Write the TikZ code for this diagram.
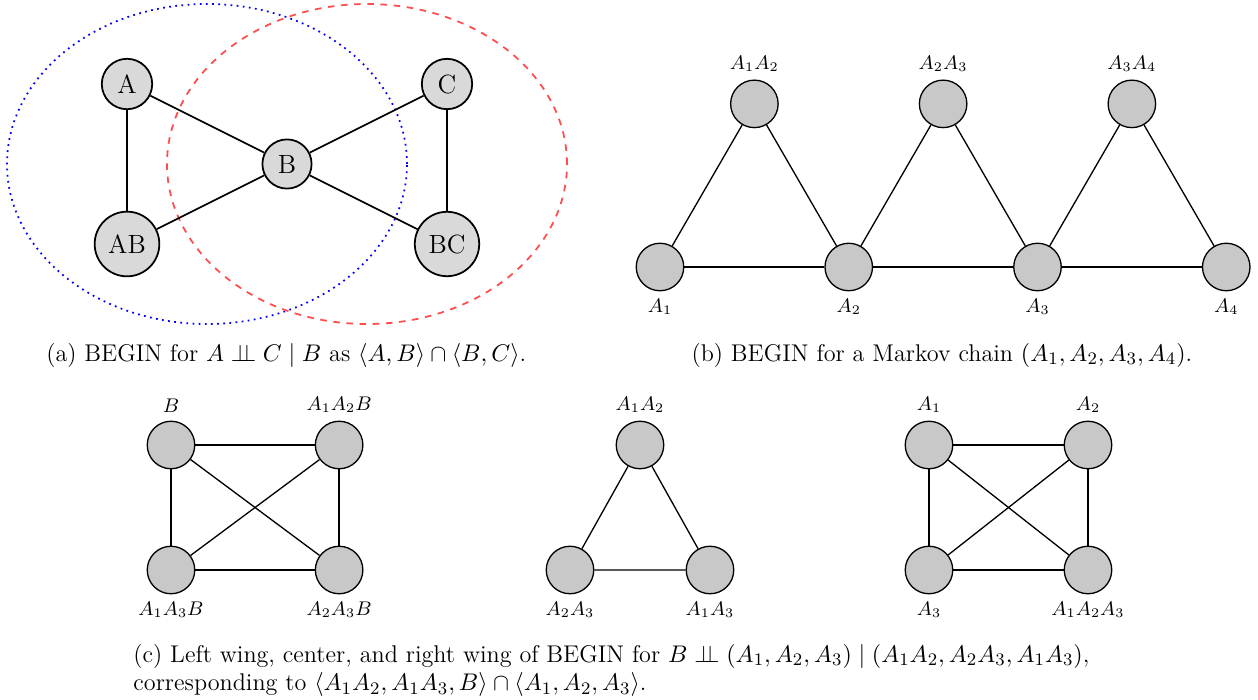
\documentclass[tikz,border=0pt]{standalone}
\usepackage{amsmath,amssymb}
\usetikzlibrary{positioning}
\definecolor{setBlue}  {RGB}{0,   0,   255}
\definecolor{setRed}   {RGB}{255, 77,  77}
\definecolor{varLight} {RGB}{217, 217, 217}
\definecolor{cliqGray} {RGB}{200, 200, 200}
\newcommand{\CondIndep}{\mathrel{\perp\!\!\!\perp}}
\tikzset{
  var/.style   = {circle, draw, thick, fill=varLight, font=\large, inner sep=3.8pt},
  cliq/.style  = {circle, draw, semithick, fill=cliqGray, minimum size=0.76cm, inner sep=0pt},
  lbl/.style   = {font=\small},
  vedge/.style = {thick},
  cedge/.style = {semithick},
  capt/.style  = {font=\fontsize{11}{13}\selectfont, align=left},
}

\begin{document}
\begin{tikzpicture}
\useasboundingbox (0,0) rectangle (20.128,-11.2);

% ---- Panel (a): two overlapping sets ----------------------------------------
\begin{scope}[shift={(4.592,-2.624)}]
  \draw[setBlue, thick, dotted] (-1.28,0) ellipse [x radius=3.2cm, y radius=2.56cm];
  \draw[setRed, thick, dashed]  (1.28,0) ellipse [x radius=3.2cm, y radius=2.56cm];

  \node[var] (B)  at (0,0)          {B};
  \node[var] (A)  at (-2.56,1.28)   {A};
  \node[var] (C)  at (2.56,1.28)    {C};
  \node[var] (AB) at (-2.56,-1.28)  {AB};
  \node[var] (BC) at (2.56,-1.28)   {BC};

  \draw[vedge] (A) -- (AB);
  \draw[vedge] (A) -- (B);
  \draw[vedge] (AB) -- (B);
  \draw[vedge] (C) -- (BC);
  \draw[vedge] (C) -- (B);
  \draw[vedge] (BC) -- (B);
\end{scope}

\node[capt] (capA) at (4.58,-5.68)
  {(a) BEGIN for $A \CondIndep C \mid B$ as $\langle A, B\rangle \cap \langle B, C\rangle$.};

% ---- Panel (b): Markov chain ------------------------------------------------
\begin{scope}[shift={(10.56,-4.272)}]
  \foreach \i/\x in {1/0, 2/3.02, 3/6.04, 4/9.06}
    \node[cliq, label={[lbl]below:$A_\i$}] (a\i) at (\x,0) {};

  \node[cliq, label={[lbl]above:$A_1A_2$}] (a12) at (1.51,2.61) {};
  \node[cliq, label={[lbl]above:$A_2A_3$}] (a23) at (4.53,2.61) {};
  \node[cliq, label={[lbl]above:$A_3A_4$}] (a34) at (7.55,2.61) {};

  \draw[cedge] (a1) -- (a2) -- (a3) -- (a4);
  \draw[cedge] (a1) -- (a12) -- (a2);
  \draw[cedge] (a2) -- (a23) -- (a3);
  \draw[cedge] (a3) -- (a34) -- (a4);
\end{scope}

\node[capt] (capB) at (15.07,-5.68)
  {(b) BEGIN for a Markov chain $(A_1, A_2, A_3, A_4)$.};

% ---- Panel (c), left wing ---------------------------------------------------
\begin{scope}[on grid, node distance=2cm and 2.69cm]
  \node[cliq, label={[lbl]above:$B$}] (lb) at (2.736,-7.12) {};
  \node[cliq, right=of lb, label={[lbl]above:$A_1A_2B$}] (la12b) {};
  \node[cliq, below=of lb, label={[lbl]below:$A_1A_3B$}] (la13b) {};
  \node[cliq, below=of la12b, label={[lbl]below:$A_2A_3B$}] (la23b) {};
\end{scope}
\draw[cedge] (lb) -- (la12b) -- (la23b) -- (la13b) -- (lb);
\draw[cedge] (lb) -- (la23b);
\draw[cedge] (la12b) -- (la13b);

% ---- Panel (c), center ------------------------------------------------------
\node[cliq, label={[lbl]above:$A_1A_2$}] (ca12) at (10.24,-7.12) {};
\node[cliq, label={[lbl]below:$A_2A_3$}] (ca23) at (9.12,-9.12) {};
\node[cliq, label={[lbl]below:$A_1A_3$}] (ca13) at (11.36,-9.12) {};
\draw[cedge] (ca12) -- (ca23) -- (ca13) -- (ca12);

% ---- Panel (c), right wing --------------------------------------------------
\begin{scope}[on grid, node distance=2cm and 2.544cm]
  \node[cliq, label={[lbl]above:$A_1$}] (ra1) at (14.864,-7.12) {};
  \node[cliq, right=of ra1, label={[lbl]above:$A_2$}] (ra2) {};
  \node[cliq, below=of ra1, label={[lbl]below:$A_3$}] (ra3) {};
  \node[cliq, below=of ra2, label={[lbl]below:$A_1A_2A_3$}] (ra123) {};
\end{scope}
\draw[cedge] (ra1) -- (ra2) -- (ra123) -- (ra3) -- (ra1);
\draw[cedge] (ra1) -- (ra123);
\draw[cedge] (ra2) -- (ra3);

\node[capt, anchor=north west, inner sep=0pt] (capC) at (2.128,-10.3)
  {(c) Left wing, center, and right wing of BEGIN for $B \CondIndep (A_1, A_2, A_3) \mid (A_1A_2, A_2A_3, A_1A_3)$,\\
   corresponding to $\langle A_1A_2, A_1A_3, B\rangle \cap \langle A_1, A_2, A_3\rangle$.};

\end{tikzpicture}
\end{document}
